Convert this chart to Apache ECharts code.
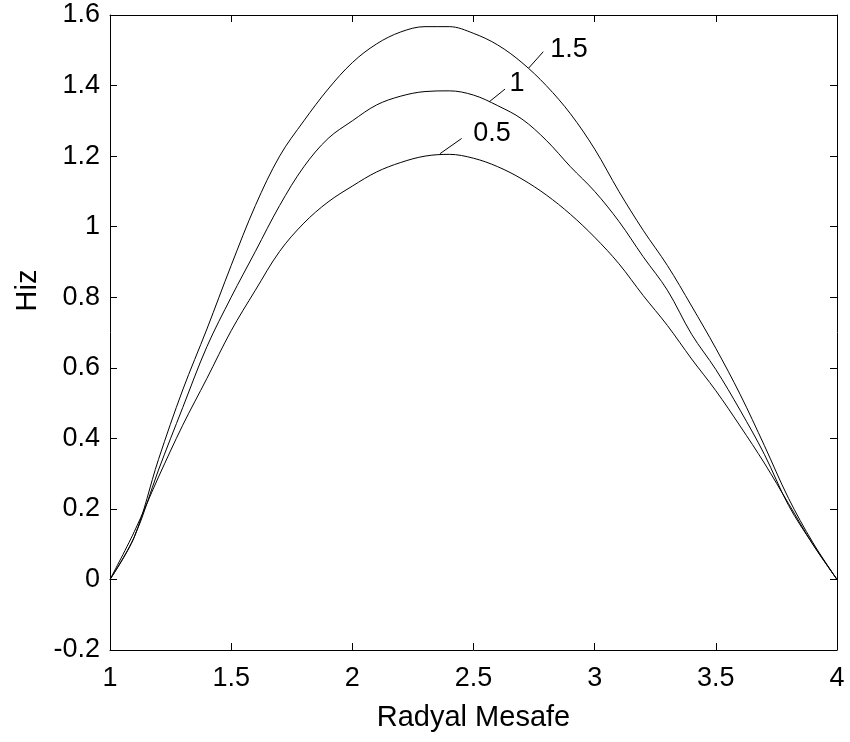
<!DOCTYPE html>
<html>
<head>
<meta charset="utf-8">
<script src="https://cdn.jsdelivr.net/npm/echarts@6/dist/echarts.min.js"></script>
<style>
html,body{margin:0;padding:0;background:#fff;}
#chart{width:850px;height:742px;}
</style>
</head>
<body>
<div id="chart"></div>
<script>
// Radial distance samples
var xs = [1.0,1.1,1.2,1.3,1.4,1.5,1.6,1.7,1.8,1.9,2.0,2.1,2.2,2.3,2.4,2.5,2.6,2.7,2.8,2.9,3.0,3.1,3.2,3.3,3.4,3.5,3.6,3.7,3.8,3.9,4.0];
// Velocity (Hiz) for parameter 1.5
var hiz15 = [0,0.12,0.34,0.537,0.71,0.89,1.06,1.20,1.30,1.39,1.465,1.518,1.552,1.567,1.567,1.548,1.515,1.465,1.40,1.32,1.22,1.10,0.99,0.89,0.775,0.655,0.525,0.38,0.23,0.105,0];
// Velocity for parameter 1
var hiz10 = [0,0.12,0.31,0.487,0.66,0.80,0.93,1.06,1.17,1.25,1.30,1.345,1.37,1.383,1.385,1.373,1.343,1.305,1.245,1.17,1.10,1.015,0.915,0.82,0.695,0.595,0.48,0.355,0.21,0.10,0];
// Velocity for parameter 0.5
var hiz05 = [0,0.135,0.29,0.437,0.57,0.705,0.82,0.93,1.01,1.07,1.115,1.155,1.182,1.20,1.205,1.194,1.17,1.135,1.09,1.035,0.97,0.895,0.805,0.72,0.625,0.535,0.435,0.33,0.215,0.10,0];

var seriesNames = ['1.5','1','0.5'];
// contour-style label annotations: [curve point], [leader end], [text centre] (data coords)
var labelCurvePts = [[2.727,1.449],[2.565,1.354],[2.362,1.207]];
var labelLeaderEnds = [[2.788,1.496],[2.630,1.390],[2.451,1.250]];
var labelTextPts = [[2.894,1.503],[2.680,1.405],[2.576,1.264]];

var xTicks = {min:1, max:4, interval:0.5};
var yTicks = {min:-0.2, max:1.6, interval:0.2};

var FONT = 'Liberation Sans, Arial, sans-serif';
var FS = 27;
var FS_NAME = 29;

function pairs(ys){ return xs.map(function(x,i){ return [x, ys[i]]; }); }

var allY = [hiz15, hiz10, hiz05];
var series = allY.map(function(ys, k){
  return {
    type:'line', name: seriesNames[k], data: pairs(ys),
    showSymbol:false, symbol:'none', smooth:0.35,
    lineStyle:{color:'#000', width:1},
    silent:true, animation:false,
    markLine:{
      silent:true, symbol:['none','none'], animation:false,
      lineStyle:{color:'#000', width:1, type:'solid'},
      label:{show:false},
      data:[[{coord:labelCurvePts[k]},{coord:labelLeaderEnds[k]}]]
    },
    markPoint:{
      silent:true, animation:false, symbol:'circle', symbolSize:0,
      itemStyle:{color:'rgba(0,0,0,0)'},
      label:{show:true, position:'inside', color:'#000', fontSize:FS, fontFamily:FONT, formatter:seriesNames[k]},
      data:[{coord:labelTextPts[k], value:seriesNames[k]}]
    }
  };
});

var axisLine = {show:true, onZero:false, lineStyle:{color:'#000', width:1}};
var axisTick = {show:true, inside:true, length:7, lineStyle:{color:'#000', width:1}};

var chart = echarts.init(document.getElementById('chart'), null, {renderer:'canvas'});
chart.setOption({
  backgroundColor:'#fff',
  animation:false,
  grid:{left:110, right:13, top:15, bottom:92, containLabel:false},
  xAxis:[{
    type:'value', min:xTicks.min, max:xTicks.max, interval:xTicks.interval, position:'bottom',
    axisLine:axisLine, axisTick:axisTick, splitLine:{show:false},
    axisLabel:{color:'#000', fontSize:FS, fontFamily:FONT, margin:15},
    name:'Radyal Mesafe', nameLocation:'middle', nameGap:53,
    nameTextStyle:{color:'#000', fontSize:FS_NAME, fontFamily:FONT}
  },{
    type:'value', min:xTicks.min, max:xTicks.max, interval:xTicks.interval, position:'top',
    axisLine:axisLine, axisTick:axisTick, splitLine:{show:false}, axisLabel:{show:false}
  }],
  yAxis:[{
    type:'value', min:yTicks.min, max:yTicks.max, interval:yTicks.interval, position:'left',
    axisLine:axisLine, axisTick:axisTick, splitLine:{show:false},
    axisLabel:{color:'#000', fontSize:FS, fontFamily:FONT, margin:10},
    name:'Hiz', nameLocation:'middle', nameGap:66,
    nameTextStyle:{color:'#000', fontSize:FS_NAME, fontFamily:FONT, padding:[0,0,0,84]}
  },{
    type:'value', min:yTicks.min, max:yTicks.max, interval:yTicks.interval, position:'right',
    axisLine:axisLine, axisTick:axisTick, splitLine:{show:false}, axisLabel:{show:false}
  }],
  series: series
});
</script>
</body>
</html>
